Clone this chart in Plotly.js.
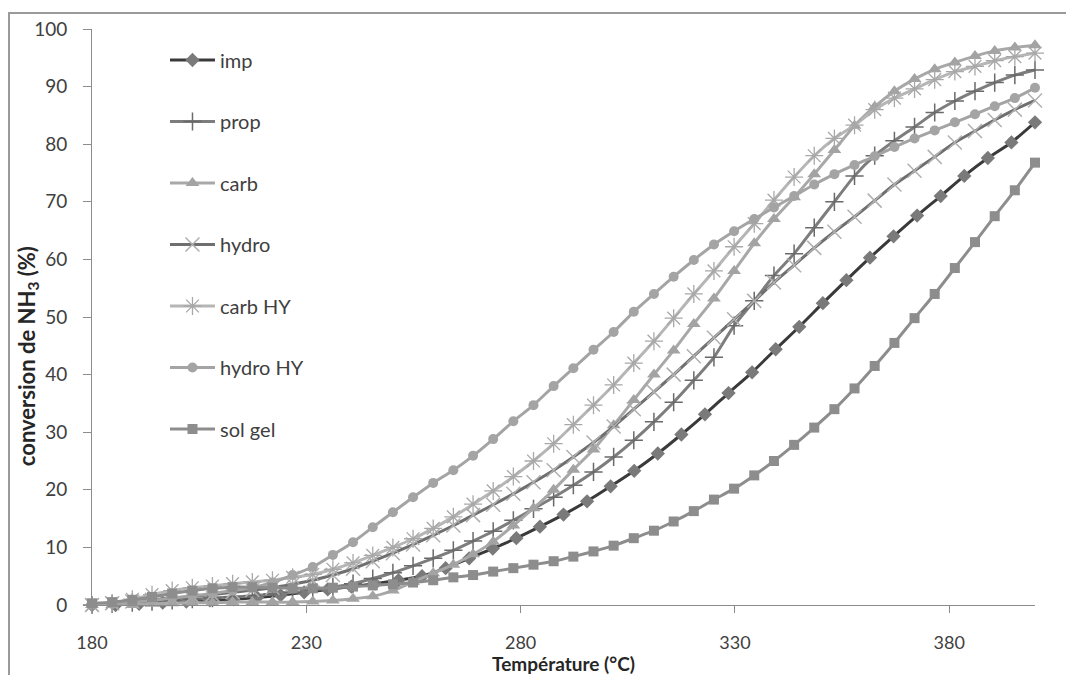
<!DOCTYPE html>
<html>
<head>
<meta charset="utf-8">
<script src="https://cdn.plot.ly/plotly-3.0.1.min.js"></script>
<style>
html,body{margin:0;padding:0;background:#fff;}
#chart{width:1066px;height:675px;}
</style>
</head>
<body>
<div id="chart"></div>
<script>
// Temperatures (°C) of the measured points
const temps = [180.0,184.7,189.4,194.0,198.7,203.4,208.1,212.8,217.4,222.1,226.8,231.5,236.2,240.9,245.5,250.2,254.9,259.6,264.3,268.9,273.6,278.3,283.0,287.7,292.3,297.0,301.7,306.4,311.1,315.7,320.4,325.1,329.8,334.5,339.1,343.8,348.5,353.2,357.9,362.6,367.2,371.9,376.6,381.3,386.0,390.6,395.3,400.0];
const tempsImp = [180,185.5,191,196.5,202,207.5,213,218.5,224,229.5,235,240.5,246,251.5,257,262.5,268,273.5,279,284.5,290,295.5,301,306.5,312,317.5,323,328.5,334,339.5,345,350.5,356,361.5,367,372.5,378,383.5,389,394.5,400];

// NH3 conversion (%)
const imp = [0,0,0.2,0.4,0.6,0.8,1.0,1.3,1.7,2.2,2.7,3.2,3.7,4.3,5.0,6.4,8.1,9.8,11.6,13.6,15.7,18.0,20.6,23.3,26.3,29.6,33.1,36.8,40.4,44.4,48.3,52.4,56.4,60.3,64.0,67.6,71.0,74.5,77.6,80.3,83.8];
const prop = [0,0.2,0.4,0.6,0.8,1.0,1.2,1.4,1.6,1.9,2.2,2.6,3.1,3.7,4.6,5.6,6.8,8.1,9.5,11.1,12.8,14.7,16.7,18.7,20.8,23.1,25.7,28.6,31.8,35.2,39.0,43.0,48.5,52.8,57.2,61.0,65.5,70.0,74.5,78.0,80.6,83.0,85.5,87.5,89.2,90.7,92.0,92.9];
const carb = [0,0,0,0.2,0.3,0.4,0.4,0.5,0.5,0.5,0.5,0.6,0.8,1.1,1.5,2.5,4.0,5.5,7.0,8.8,11.0,13.8,16.8,20.0,23.5,27.0,31.2,35.6,40.0,44.2,48.8,53.2,58.0,62.8,67.0,70.8,74.8,79.0,83.2,86.5,89.2,91.3,93.0,94.2,95.3,96.2,96.8,97.2];
const hydro = [0,0.3,0.6,0.9,1.2,1.5,1.8,2.2,2.6,3.0,3.6,4.3,5.2,6.3,7.6,9.0,10.5,12.1,13.8,15.6,17.4,19.3,21.3,23.4,25.7,28.2,31.0,34.0,37.0,40.0,43.2,46.4,49.6,52.8,56.0,59.0,62.0,64.8,67.4,70.2,73.0,75.4,77.8,80.3,82.3,84.2,86.0,87.6];
const carbHY = [0,0.3,1.0,1.8,2.5,3.0,3.3,3.7,4.0,4.3,4.8,5.3,6.2,7.3,8.6,10.0,11.5,13.3,15.3,17.5,19.8,22.3,25.0,28.0,31.3,34.7,38.2,42.0,45.8,49.8,54.0,58.0,62.2,66.2,70.3,74.3,78.0,81.0,83.3,86.0,88.0,89.6,91.2,92.6,93.5,94.5,95.2,95.8];
const hydroHY = [0,0.2,0.5,0.8,1.2,1.6,2.0,2.5,3.0,3.9,5.2,6.6,8.7,10.9,13.5,16.1,18.7,21.2,23.4,25.9,28.8,31.9,34.7,38.0,41.1,44.3,47.4,50.9,54.0,57.0,59.9,62.6,64.9,67.0,69.0,71.0,73.0,74.8,76.4,77.9,79.5,81.0,82.4,83.8,85.2,86.6,88.0,89.8];
const solGel = [0.3,0.5,0.9,1.4,2.0,2.5,2.9,3.1,3.1,3.0,2.9,2.9,3.0,3.2,3.4,3.6,3.9,4.3,4.8,5.2,5.8,6.4,7.0,7.6,8.4,9.3,10.3,11.6,12.9,14.5,16.3,18.3,20.2,22.5,25.0,27.8,30.8,34.0,37.6,41.5,45.5,49.8,54.0,58.5,63.0,67.5,72.0,76.8];

const seriesNames = ['imp','prop','carb','hydro','carb HY','hydro HY','sol gel'];
const xTickVals = [180,230,280,330,380];
const yTickVals = [0,10,20,30,40,50,60,70,80,90,100];
const xTitle = 'Température (°C)';
const yTitle = 'conversion de NH<sub>3</sub> (%)';

const FONT = 'Lato, "Open Sans", "Liberation Sans", sans-serif';

function tr(name, x, y, lineColor, marker) {
  return {
    type: 'scatter', mode: 'lines+markers', name: name, legendgroup: name,
    x: x, y: y, cliponaxis: false,
    line: {color: lineColor, width: 3, shape: 'spline', smoothing: 0.6},
    marker: marker
  };
}

const data = [
  tr(seriesNames[0], tempsImp, imp, '#3a3a3a', {symbol: 'diamond', size: 11, color: '#7a7a7a', line: {width: 0}}),
  tr(seriesNames[1], temps, prop, '#7d7d7d', {symbol: 'cross-thin-open', size: 13, color: '#6a6a6a', line: {width: 1.5, color: '#6a6a6a'}}),
  tr(seriesNames[2], temps, carb, '#a8a8a8', {symbol: 'triangle-up', size: 12, color: '#a3a3a3', line: {width: 0}}),
  tr(seriesNames[3], temps, hydro, '#6f6f6f', {symbol: 'x-thin-open', size: 14, color: '#b0b0b0', line: {width: 1.5, color: '#b0b0b0'}}),
  tr(seriesNames[4], temps, carbHY, '#b6b6b6', {symbol: 'asterisk-open', size: 15, color: '#a8a8a8', line: {width: 1.3, color: '#a8a8a8'}}),
  tr(seriesNames[5], temps, hydroHY, '#a4a4a4', {symbol: 'circle', size: 10, color: '#a4a4a4', line: {width: 0}}),
  tr(seriesNames[6], temps, solGel, '#8d8d8d', {symbol: 'square', size: 10, color: '#8d8d8d', line: {width: 0}})
];

const layout = {
  width: 1066, height: 675,
  margin: {l: 92, r: 31, t: 29, b: 70, pad: 0},
  paper_bgcolor: '#ffffff', plot_bgcolor: '#ffffff',
  font: {family: FONT, color: '#404040', size: 18},
  showlegend: true,
  legend: {
    x: 0.0774, y: 0.98, xanchor: 'left', yanchor: 'top',
    bgcolor: 'rgba(0,0,0,0)', borderwidth: 0, itemwidth: 45,
    font: {family: FONT, size: 20, color: '#404040'},
    traceorder: 'grouped', tracegroupgap: 32.5
  },
  xaxis: {
    range: [180, 400], tickvals: xTickVals, ticktext: xTickVals.map(String),
    showgrid: false, zeroline: false,
    showline: true, linecolor: '#8c8c8c', linewidth: 1,
    ticks: 'outside', ticklen: 7, tickcolor: '#8c8c8c', tickwidth: 1,
    ticklabelstandoff: 14,
    tickfont: {family: FONT, size: 18, color: '#404040'},
    title: {text: xTitle, font: {family: FONT, size: 19, color: '#262626', weight: 'bold'}, standoff: 6}
  },
  yaxis: {
    range: [0, 100], tickvals: yTickVals, ticktext: yTickVals.map(String),
    showgrid: false, zeroline: false,
    showline: true, linecolor: '#8c8c8c', linewidth: 1,
    ticks: 'outside', ticklen: 8, tickcolor: '#8c8c8c', tickwidth: 1,
    ticklabelstandoff: 12,
    tickfont: {family: FONT, size: 19, color: '#404040'}
  },
  annotations: [{
    xref: 'paper', yref: 'paper', x: -0.0679, y: 0.432,
    xanchor: 'center', yanchor: 'middle', textangle: -90, showarrow: false,
    text: yTitle, font: {family: FONT, size: 22, color: '#262626', weight: 'bold'}
  }],
  shapes: [{
    type: 'rect', xref: 'paper', yref: 'paper',
    x0: -0.088, x1: 1.2, y0: -0.3, y1: 1.0278,
    line: {color: '#9a9a9a', width: 2}, fillcolor: 'rgba(0,0,0,0)', layer: 'below'
  }]
};

Plotly.newPlot('chart', data, layout, {displayModeBar: false, staticPlot: true});
</script>
</body>
</html>
